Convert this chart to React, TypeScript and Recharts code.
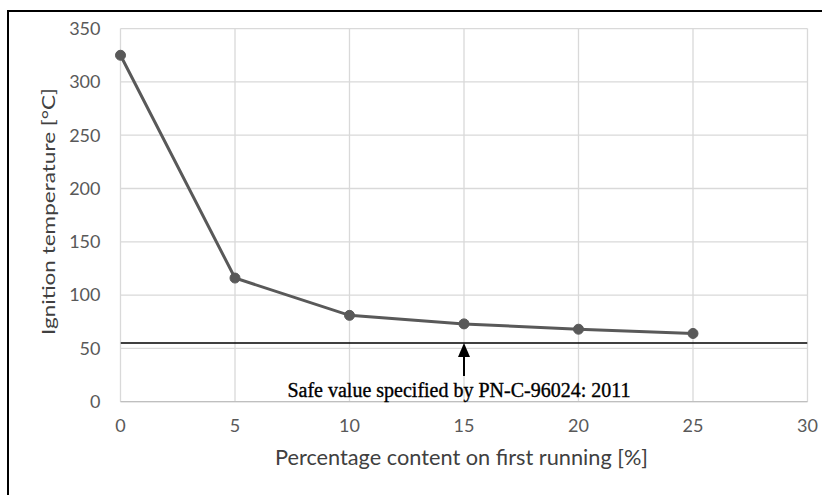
import {
  LineChart,
  Line,
  XAxis,
  YAxis,
  CartesianGrid,
  ReferenceLine,
  ReferenceDot,
  Label,
} from 'recharts';

const contentPct = [0, 5, 10, 15, 20, 25];
const ignitionTemp = [325, 116, 81, 73, 68, 64];
const xTicks = [0, 5, 10, 15, 20, 25, 30];
const yTicks = [0, 50, 100, 150, 200, 250, 300, 350];
const safeValue = 55;
const arrowAt = 15;
const arrowTail = 24;
const noteY = 4;
const noteText = 'Safe value specified by PN-C-96024: 2011';
const xTitle = 'Percentage content on first running [%]';
const yTitle = 'Ignition temperature [°C]';

const data = contentPct.map((x, i) => ({ x, temp: ignitionTemp[i] }));

const tickStyle = { fill: '#595959', fontSize: 18, fontFamily: 'Lato' };

function Arrow(props: any) {
  const { x1, y1, x2, y2 } = props;
  const top = Math.min(y1, y2);
  const bottom = Math.max(y1, y2);
  const x = (x1 + x2) / 2;
  return (
    <g>
      <line x1={x} y1={top + 10} x2={x} y2={bottom} stroke="#000" strokeWidth={2} />
      <path d={`M${x},${top} L${x - 6},${top + 14} L${x + 6},${top + 14} Z`} fill="#000" />
    </g>
  );
}

export default function App() {
  return (
    <div style={{ position: 'absolute', left: 0, top: 0, width: 822, height: 495, background: '#fff' }}>
      <div
        style={{
          position: 'absolute',
          left: 7,
          top: 10,
          width: 815,
          height: 485,
          borderTop: '2.5px solid #000',
          borderLeft: '2.5px solid #000',
          boxSizing: 'border-box',
        }}
      />
      <div style={{ position: 'absolute', left: 0, top: 0 }}>
        <LineChart
          width={822}
          height={495}
          data={data}
          margin={{ top: 28.6, right: 14.5, bottom: 0, left: 0 }}
        >
          <CartesianGrid stroke="#d9d9d9" strokeWidth={1.3} />
          <XAxis
            dataKey="x"
            type="number"
            domain={[0, 30]}
            ticks={xTicks}
            height={93.3}
            tickSize={0}
            tickMargin={18}
            tick={tickStyle}
            axisLine={{ stroke: '#bfbfbf', strokeWidth: 1.3 }}
          >
            <Label
              content={() => (
                <text
                  x={461.5}
                  y={465}
                  textAnchor="middle"
                  fill="#404040"
                  fontSize={21.5}
                  fontFamily="Lato"
                  textLength={373}
                  lengthAdjust="spacingAndGlyphs"
                >
                  {xTitle}
                </text>
              )}
            />
          </XAxis>
          <YAxis
            type="number"
            domain={[0, 350]}
            ticks={yTicks}
            width={120.5}
            tickSize={0}
            tickMargin={20}
            tick={tickStyle}
            axisLine={false}
          >
            <Label
              content={() => {
                const cx = 48;
                const cy = 211.5;
                return (
                  <text
                    x={cx}
                    y={cy}
                    transform={`rotate(-90, ${cx}, ${cy})`}
                    textAnchor="middle"
                    dominantBaseline="central"
                    fill="#404040"
                    fontSize={17.5}
                    fontFamily="Lato"
                    textLength={247}
                    lengthAdjust="spacingAndGlyphs"
                  >
                    {yTitle}
                  </text>
                );
              }}
            />
          </YAxis>
          <ReferenceLine y={safeValue} stroke="#000" strokeWidth={1.6} ifOverflow="hidden" />
          <ReferenceLine
            segment={[
              { x: arrowAt, y: safeValue },
              { x: arrowAt, y: arrowTail },
            ]}
            shape={Arrow}
          />
          <ReferenceDot x={arrowAt} y={noteY} r={0} stroke="none" fill="none">
            <Label
              content={({ viewBox }: any) => (
                <text
                  x={viewBox.x + viewBox.width / 2 - 5}
                  y={viewBox.y + viewBox.height / 2}
                  textAnchor="middle"
                  fill="#000"
                  stroke="#000"
                  strokeWidth={0.35}
                  fontSize={20}
                  fontFamily="Liberation Serif"
                >
                  {noteText}
                </text>
              )}
            />
          </ReferenceDot>
          <Line
            dataKey="temp"
            stroke="#595959"
            strokeWidth={3}
            dot={{ r: 5, fill: '#595959', stroke: '#595959', strokeWidth: 1 }}
            isAnimationActive={false}
          />
        </LineChart>
      </div>
    </div>
  );
}
